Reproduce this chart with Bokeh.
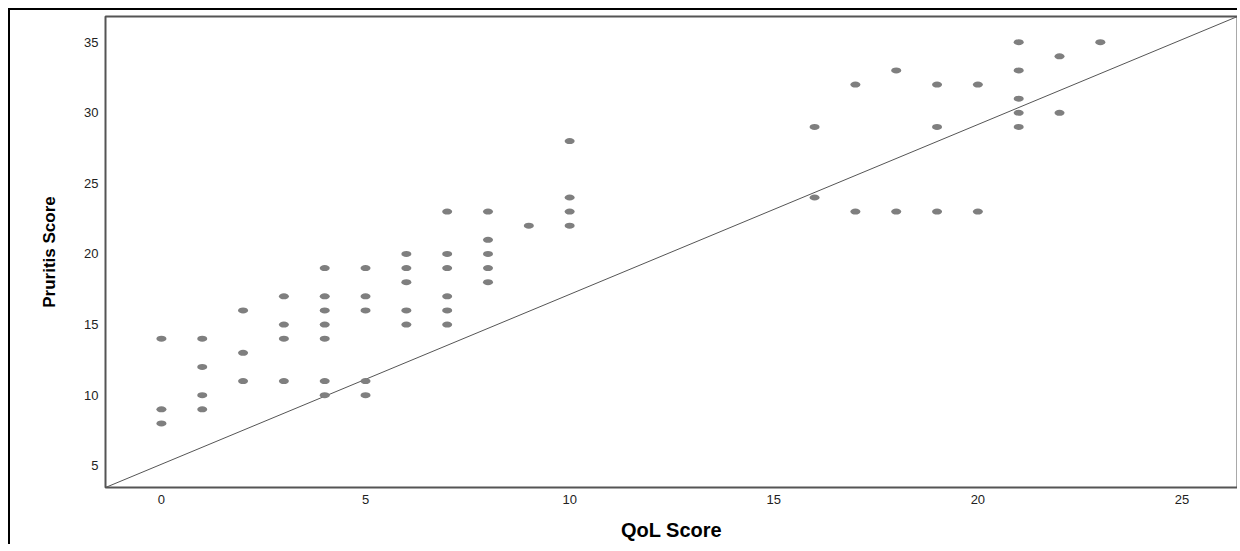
from bokeh.plotting import figure
from bokeh.models import Range1d, FixedTicker
from bokeh.embed import file_html
from bokeh.resources import INLINE

# Data
qol_scores = [0, 0, 0,
              1, 1, 1, 1,
              2, 2, 2,
              3, 3, 3, 3,
              4, 4, 4, 4, 4, 4, 4,
              5, 5, 5, 5, 5,
              6, 6, 6, 6, 6,
              7, 7, 7, 7, 7, 7,
              8, 8, 8, 8, 8,
              9,
              10, 10, 10, 10,
              16, 16,
              17, 17,
              18, 18,
              19, 19, 19,
              20, 20,
              21, 21, 21, 21, 21,
              22, 22,
              23]
pruritis_scores = [14, 9, 8,
                   14, 12, 10, 9,
                   16, 13, 11,
                   17, 15, 14, 11,
                   19, 17, 16, 15, 14, 11, 10,
                   19, 17, 16, 11, 10,
                   20, 19, 18, 16, 15,
                   23, 20, 19, 17, 16, 15,
                   23, 21, 20, 19, 18,
                   22,
                   28, 24, 23, 22,
                   29, 24,
                   32, 23,
                   33, 23,
                   32, 29, 23,
                   32, 23,
                   35, 33, 31, 30, 29,
                   34, 30,
                   35]

# Reference (fit) line endpoints
line_x = [-1.37, 26.36]
line_y = [3.46, 36.82]

x_ticks = [0, 5, 10, 15, 20, 25]
y_ticks = [5, 10, 15, 20, 25, 30, 35]

FONT = "Liberation Sans"

p = figure(width=1229, height=536, output_backend="svg", toolbar_location=None,
           x_range=Range1d(-1.37, 26.36), y_range=Range1d(3.46, 36.82),
           min_border_left=95, min_border_right=2, min_border_top=6, min_border_bottom=59)

p.styles = {"margin-left": "8px", "margin-top": "8px",
            "border-left": "2px solid black", "border-top": "2px solid black"}

p.background_fill_color = "white"
p.border_fill_color = "white"
p.outline_line_color = "#555555"
p.outline_line_width = 2
p.grid.visible = False

p.line(line_x, line_y, line_color="#555555", line_width=1)
p.ellipse(qol_scores, pruritis_scores, width=10, height=6,
          width_units="screen", height_units="screen",
          fill_color="#7f7f7f", line_color=None)

p.xaxis.ticker = FixedTicker(ticks=x_ticks)
p.yaxis.ticker = FixedTicker(ticks=y_ticks)
for ax in (p.xaxis, p.yaxis):
    ax.axis_line_color = None
    ax.major_tick_line_color = None
    ax.minor_tick_line_color = None
    ax.major_label_text_font = FONT
    ax.major_label_text_font_size = "13px"
    ax.major_label_text_color = "#222222"
    ax.major_label_standoff = 1
    ax.axis_label_text_font = FONT
    ax.axis_label_text_font_style = "bold"
    ax.axis_label_text_color = "#000000"

p.xaxis.axis_label = "QoL Score"
p.xaxis.axis_label_text_font_size = "20px"
p.xaxis.axis_label_standoff = 12
p.yaxis.axis_label = "Pruritis Score"
p.yaxis.axis_label_text_font_size = "17px"
p.yaxis.axis_label_standoff = 22

open("out.html", "w").write(file_html(p, INLINE))
